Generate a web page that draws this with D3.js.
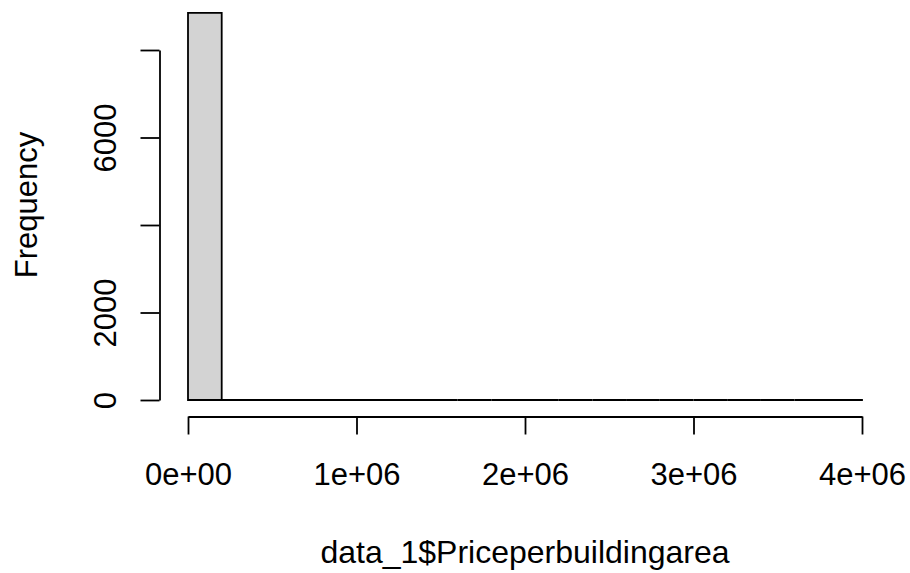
<!DOCTYPE html>
<html><head><meta charset="utf-8">
<script src="https://cdn.jsdelivr.net/npm/d3@7"></script>
<style>body{margin:0;background:#fff}svg{display:block}text{font-family:"Liberation Sans",Arial,sans-serif;fill:#000}</style>
</head><body>
<svg id="c" width="910" height="573"></svg>
<script>
// Histogram bins (breaks) and counts
const binStarts = [0,200000,400000,600000,800000,1000000,1200000,1400000,1600000,1800000,2000000,2200000,2400000,2600000,2800000,3000000,3200000,3400000,3600000,3800000];
const binWidth = 200000;
const counts = [8850,4,2,1,1,0,1,0,0,0,0,0,0,0,0,0,0,0,0,1];
const xTicks = [0,1000000,2000000,3000000,4000000];
const xTickLabels = ["0e+00","1e+06","2e+06","3e+06","4e+06"];
const yTicks = [0,2000,4000,6000,8000];
const yTickLabels = ["0","2000","","6000",""];
const xTitle = "data_1$Priceperbuildingarea";
const yTitle = "Frequency";

const svg = d3.select("#c");
const x = d3.scaleLinear().domain([0,4000000]).range([188,862]);
const y = d3.scaleLinear().domain([0,8000]).range([400,50]);

// bars (drawn as closed paths so zero-height bins still show their outline)
svg.append("g").selectAll("path").data(binStarts).join("path")
  .attr("d", (d,i)=>{
    const x0=x(d), x1=x(d+binWidth), y0=y(0), y1=y(counts[i]);
    return `M${x0},${y0}V${y1}H${x1}V${y0}Z`;
  })
  .attr("fill","#d3d3d3").attr("stroke","#000").attr("stroke-width",1.8).attr("stroke-linejoin","miter");

// x axis
const xa = svg.append("g").attr("transform","translate(0,416.5)")
  .call(d3.axisBottom(x).tickValues(xTicks).tickFormat((d,i)=>xTickLabels[i]).tickSize(18).tickPadding(28).tickSizeOuter(0));
xa.select(".domain").attr("stroke","#000").attr("stroke-width",1.8);
xa.selectAll(".tick line").attr("stroke","#000").attr("stroke-width",1.8);
xa.selectAll(".tick text").attr("font-size",31).attr("font-family","Liberation Sans, Arial, sans-serif").attr("fill","#000");

// y axis
const ya = svg.append("g").attr("transform","translate(159.5,0)")
  .call(d3.axisLeft(y).tickValues(yTicks).tickSize(19).tickSizeOuter(0).tickFormat((d,i)=>yTickLabels[i]));
ya.select(".domain").attr("stroke","#000").attr("stroke-width",1.8);
ya.selectAll(".tick line").attr("stroke","#000").attr("stroke-width",1.8);
ya.selectAll(".tick text").remove();
ya.selectAll(".tick").append("text")
  .attr("transform","translate(-44,0) rotate(-90)")
  .attr("text-anchor","middle").attr("dy",0)
  .attr("font-size",31).attr("font-family","Liberation Sans, Arial, sans-serif").attr("fill","#000")
  .text((d,i)=>yTickLabels[i]);

// titles
svg.append("text").attr("x",525).attr("y",563).attr("text-anchor","middle").attr("font-size",32).text(xTitle);
svg.append("text").attr("transform","translate(37,205) rotate(-90)").attr("text-anchor","middle").attr("font-size",31).text(yTitle);
</script>
</body></html>
